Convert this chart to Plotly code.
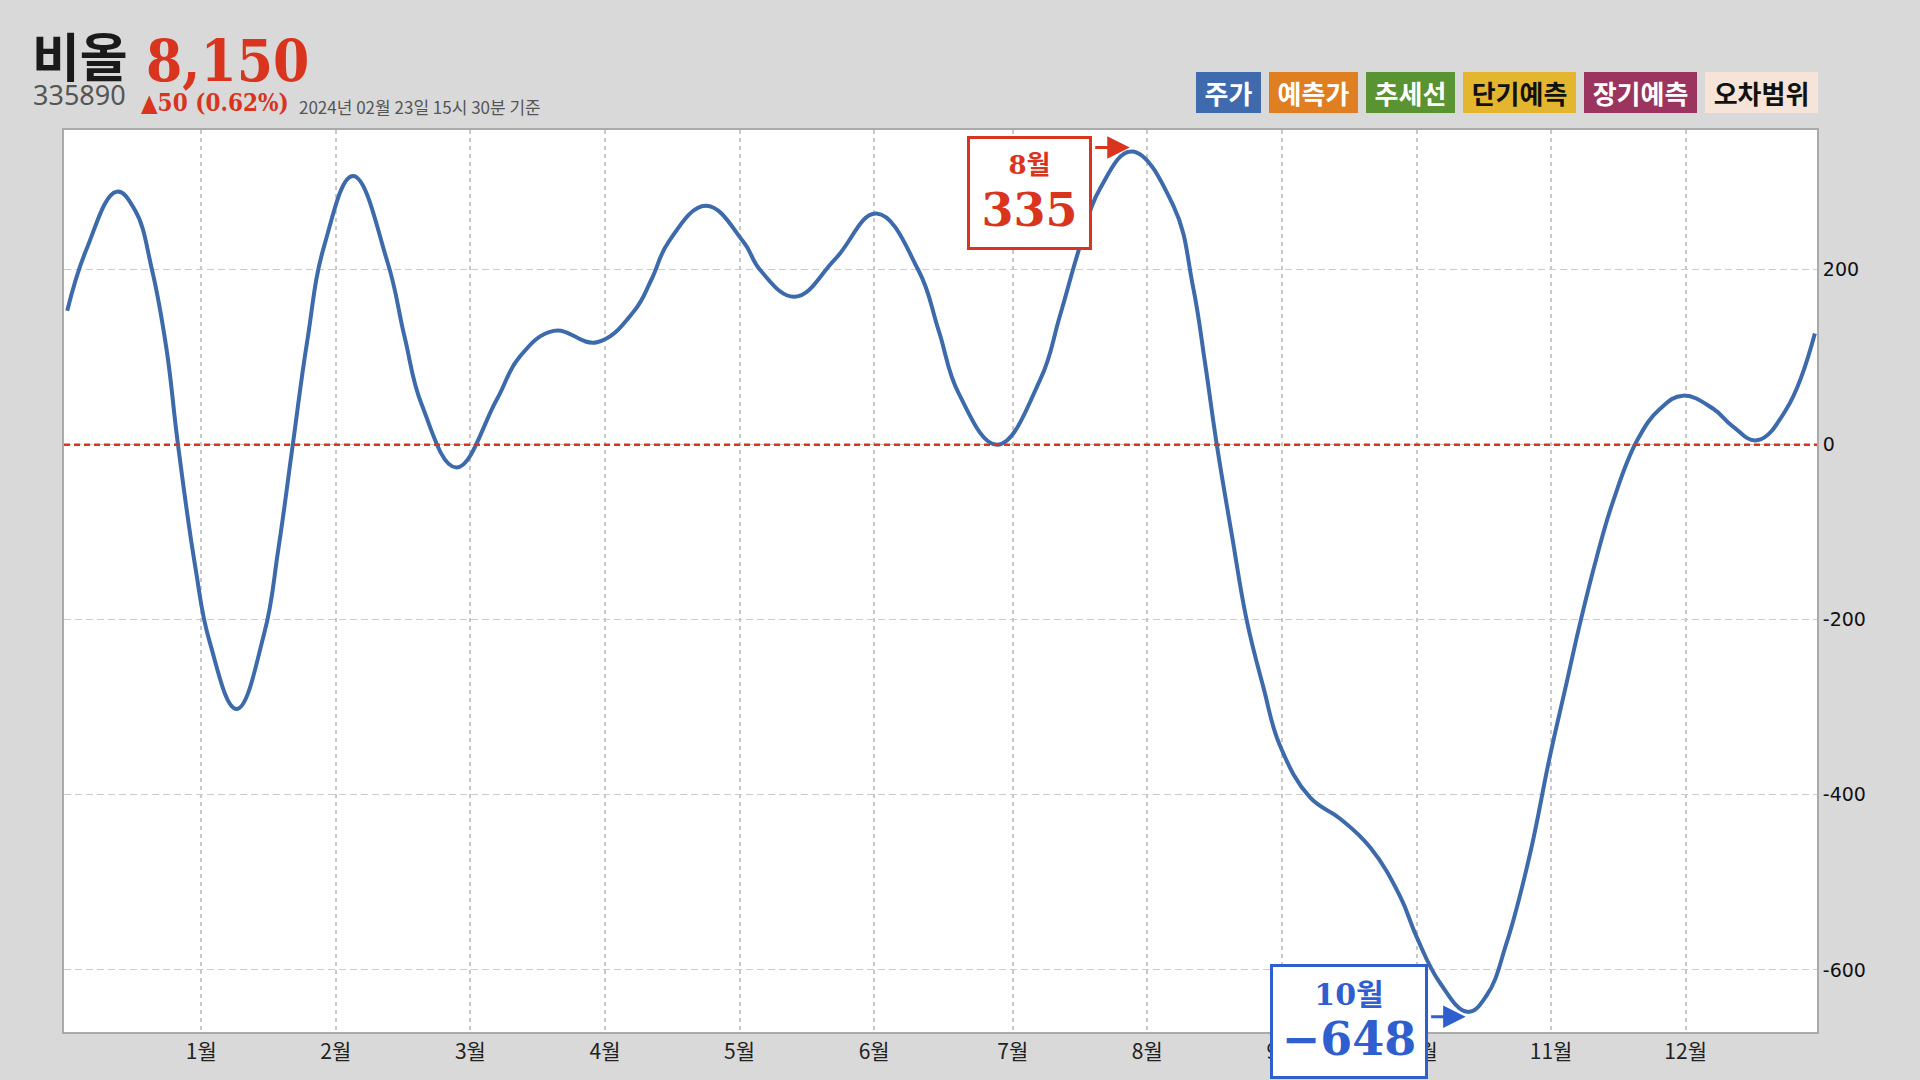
import plotly.graph_objects as go

# ---------------- data ----------------
x_pos = [0.024, 0.164, 0.391, 0.527, 0.655, 0.761, 0.847, 0.975, 1.082, 1.282, 1.487, 1.593, 1.70,
         1.806, 1.935, 2.148, 2.403, 2.531, 2.66, 2.915, 3.214, 3.384, 3.64, 3.96, 4.238,
         4.366, 4.494, 4.77, 5.047, 5.176, 5.432, 5.73, 6.037, 6.35, 6.5, 6.65, 6.936,
         7.253, 7.40, 7.55, 7.70, 7.934, 8.243, 8.39, 8.48, 8.566, 8.68, 8.789, 8.912,
         9.036, 9.259, 9.48, 9.705, 9.928, 10.05, 10.225, 10.43, 10.572, 10.72, 10.89,
         11.04, 11.155, 11.27, 11.39, 11.51, 11.69, 11.86, 12.03, 12.255, 12.40, 12.58,
         12.8, 13.01]
values = [153, 222, 289, 268, 199, 110, 0, -139, -225, -302, -216, -119, 0,
          117, 228, 307, 209, 123, 45, -26, 51, 100, 130, 117, 153,
          189, 232, 273, 232, 199, 169, 212, 264, 199, 130, 58, 0,
          74, 147, 227, 293, 335, 273, 180, 92, 0, -105, -201, -277,
          -344, -403, -427, -460, -516, -562, -615, -648, -629, -569, -470,
          -357, -279, -201, -128, -65, 5, 41, 56, 41, 21, 5,
          41, 127]

month_labels = ["1월", "2월", "3월", "4월", "5월", "6월", "7월", "8월", "9월", "10월", "11월", "12월"]
month_pos = [1.02, 2.02, 3.02, 4.02, 5.02, 6.02, 7.05, 8.05, 9.05, 10.05, 11.05, 12.05]
y_ticks = [-600, -400, -200, 0, 200]

legend_names = ["주가", "예측가", "추세선", "단기예측", "장기예측", "오차범위"]
legend_colors = ["#3f6aad", "#e07f22", "#5a9331", "#e4b62f", "#9b3560", "#f5e4d7"]
legend_text_colors = ["#ffffff", "#ffffff", "#ffffff", "#111111", "#ffffff", "#111111"]

stock_name = "비올"
stock_code = "335890"
price = "8,150"
change = "▲50 (0.62%)"
asof = "2024년 02월 23일 15시 30분 기준"
peak_month = "8월"
trough_month = "10월"

# ---------------- layout geometry ----------------
W, H = 1920, 1080
ML, MR, MT, MB = 64, 103, 130, 48
PW, PH = W - ML - MR, H - MT - MB

def px(x):
    return (x - ML) / PW

def py(y):
    return (H - MB - y) / PH

RED = "#d8341e"
BLUE = "#2f5fcf"
LINE = "#3d6aab"

fig = go.Figure()
fig.add_trace(go.Scatter(x=x_pos, y=values, mode="lines",
                         line=dict(color=LINE, width=4, shape="spline", smoothing=1.2),
                         hoverinfo="skip", showlegend=False))

# zero line
fig.add_shape(type="line", xref="paper", yref="y", x0=0, x1=1, y0=0, y1=0,
              line=dict(color=RED, width=2.5, dash="6px,4px"))

ann = []
# title block
ann.append(dict(text=f"<b>{stock_name}</b>", x=px(30), y=py(55), xref="paper", yref="paper",
                xanchor="left", yanchor="middle", showarrow=False,
                font=dict(family="Noto Sans CJK KR", size=52, color="#1a1a1a", weight=900)))
ann.append(dict(text=f"<b>{price}</b>", x=px(144), y=py(61), xref="paper", yref="paper",
                xanchor="left", yanchor="middle", showarrow=False,
                font=dict(family="DejaVu Serif Condensed, DejaVu Serif", size=58, color=RED)))
ann.append(dict(text=stock_code, x=px(31), y=py(95), xref="paper", yref="paper",
                xanchor="left", yanchor="middle", showarrow=False,
                font=dict(family="Noto Sans", size=27, color="#555555")))
ann.append(dict(text=f"<b>{change}</b>", x=px(139), y=py(103), xref="paper", yref="paper",
                xanchor="left", yanchor="middle", showarrow=False,
                font=dict(family="DejaVu Serif Condensed, DejaVu Serif", size=24, color=RED)))
ann.append(dict(text=asof, x=px(297), y=py(106), xref="paper", yref="paper",
                xanchor="left", yanchor="middle", showarrow=False,
                font=dict(family="Noto Sans CJK KR", size=17, color="#555555")))

# legend boxes (right aligned)
right = 1818
gap = 8
boxes = []
for name in reversed(legend_names):
    w = 24 * len(name) + 17
    boxes.append((right - w, w))
    right = right - w - gap
boxes = list(reversed(boxes))
for (x0, w), name, bg, fc in zip(boxes, legend_names, legend_colors, legend_text_colors):
    ann.append(dict(text=f"<b>{name}</b>", x=px(x0 + w / 2), y=py(92.5), xref="paper", yref="paper",
                    xanchor="center", yanchor="middle", showarrow=False,
                    width=w, height=41, bgcolor=bg, borderpad=0, borderwidth=0,
                    font=dict(family="Noto Sans CJK KR", size=26, color=fc)))

# extreme annotations
imax = max(range(len(values)), key=lambda i: values[i])
imin = min(range(len(values)), key=lambda i: values[i])

ann.append(dict(text=(f"<span style=\"font-size:26px\"><b>{peak_month}</b></span><br>"
                      f"<span style=\"font-size:46px\"><b>{values[imax]}</b></span>"),
                x=x_pos[imax], y=values[imax], xref="x", yref="y",
                xanchor="right", yanchor="top", xshift=-40, yshift=15.5,
                showarrow=False, width=119, height=108, align="center", valign="middle",
                bgcolor="#ffffff", bordercolor=RED, borderwidth=3, borderpad=0,
                font=dict(family="DejaVu Serif, Noto Sans CJK KR", size=40, color=RED)))
ann.append(dict(text="", x=x_pos[imax], y=values[imax], xref="x", yref="y",
                ax=-38, ay=0, yshift=4, showarrow=True, arrowhead=2, arrowsize=1.5,
                arrowwidth=3, arrowcolor=RED, standoff=2))

ann.append(dict(text=(f"<span style=\"font-size:30px\"><b>{trough_month}</b></span><br>"
                      f"<span style=\"font-size:46px\"><b>{'−' + str(abs(values[imin]))}</b></span>"),
                x=x_pos[imin], y=values[imin], xref="x", yref="y",
                xanchor="right", yanchor="top", xshift=-40, yshift=48,
                showarrow=False, width=152, height=109, align="center", valign="middle",
                bgcolor="#ffffff", bordercolor=BLUE, borderwidth=3, borderpad=0,
                font=dict(family="DejaVu Serif, Noto Sans CJK KR", size=39, color=BLUE)))
ann.append(dict(text="", x=x_pos[imin], y=values[imin], xref="x", yref="y",
                ax=-38, ay=0, yshift=-5, showarrow=True, arrowhead=2, arrowsize=1.5,
                arrowwidth=3, arrowcolor=BLUE, standoff=2))

fig.update_layout(
    width=W, height=H,
    margin=dict(l=ML, r=MR, t=MT, b=MB, pad=0),
    paper_bgcolor="#d9d9d9", plot_bgcolor="#ffffff",
    showlegend=False,
    annotations=ann,
    xaxis=dict(range=[0, 13.026], tickmode="array", tickvals=month_pos, ticktext=month_labels,
               showgrid=True, gridcolor="#c8c8c8", gridwidth=1.5, griddash="4px,4px",
               zeroline=False, showline=True, linecolor="#aaaaaa", linewidth=2, mirror=True,
               ticks="", tickfont=dict(family="Noto Sans CJK KR", size=21, color="#222222")),
    yaxis=dict(range=[-671, 359.5], tickmode="array", tickvals=y_ticks,
               ticktext=[str(v) for v in y_ticks], side="right",
               showgrid=True, gridcolor="#cccccc", gridwidth=1, griddash="7px,4px",
               zeroline=False, showline=True, linecolor="#aaaaaa", linewidth=2, mirror=True,
               ticks="", tickfont=dict(family="DejaVu Sans", size=19, color="#111111")),
)

fig.write_html("out.html", config={"displayModeBar": False},
               post_script="document.body.style.margin='0';document.body.style.overflow='hidden';")
